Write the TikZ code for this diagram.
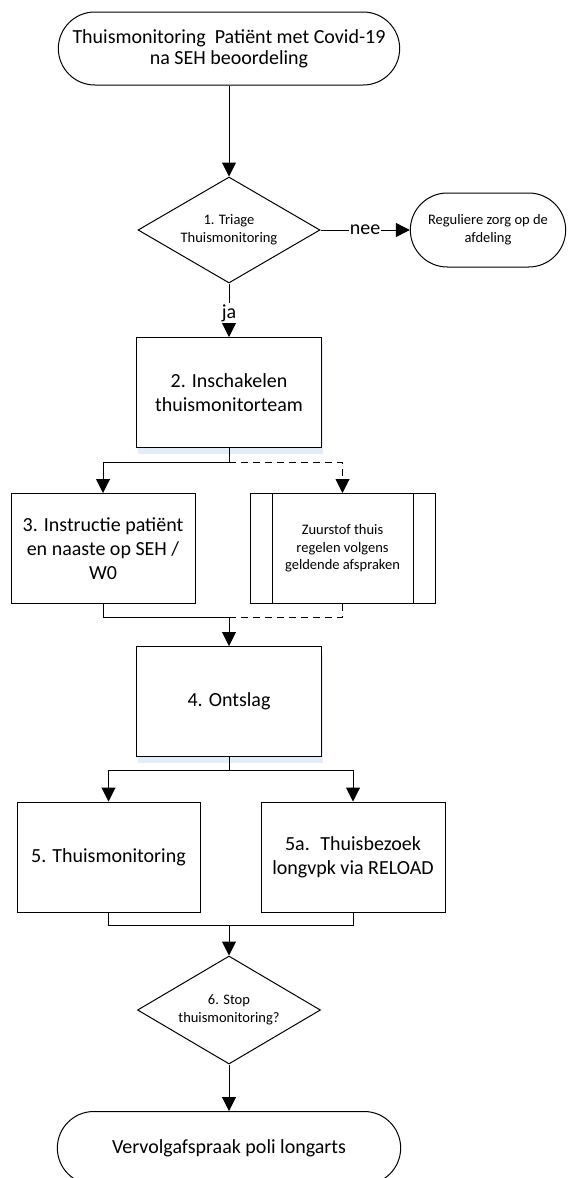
\documentclass[tikz,border=0pt]{standalone}
\usepackage{fontspec}
\setmainfont{Carlito}
\usetikzlibrary{arrows.meta,shapes.geometric,shapes.misc,shadows}
\definecolor{glowblue}{RGB}{228,236,247}
\tikzset{
	every node/.style={font=\fontsize{20}{24}\selectfont},
	terminal/.style={draw, rounded rectangle, fill=white, minimum height=73pt, align=center, font=\fontsize{20}{21}\selectfont},
	smallterminal/.style={terminal, minimum height=74pt, font=\fontsize{14.5}{18}\selectfont},
	decision/.style={draw, diamond, aspect=1.7, fill=white, inner sep=0pt, align=center, font=\fontsize{14.5}{18}\selectfont},
	stepbox/.style={draw, rectangle, fill=white, minimum width=185pt, minimum height=110pt, align=center},
	subproc/.style={stepbox, font=\fontsize{14.5}{17.5}\selectfont,
		path picture={
			\draw ([xshift=22pt]path picture bounding box.north west) -- ([xshift=22pt]path picture bounding box.south west);
			\draw ([xshift=-22pt]path picture bounding box.north east) -- ([xshift=-22pt]path picture bounding box.south east);
		}},
	glow/.style={drop shadow={shadow xshift=1.5pt, shadow yshift=-6pt, fill=glowblue, opacity=1}},
	onlabel/.style={fill=white, inner sep=1pt}
}

\begin{document}
\begin{tikzpicture}[x=1pt, y=-1pt, line width=1pt, >={Triangle[length=14pt,width=14pt]}]
		%%%%% START %%%%%
		\useasboundingbox (0,0) rectangle (570,1178);
		
		\node[terminal, minimum width=348pt] (start) at (229,48.5) {Thuismonitoring~ Patiënt met Covid-19\\na SEH beoordeling};
		\node[decision, minimum width=182pt, minimum height=106pt] (triage) at (229,230) {1. Triage\\Thuismonitoring};
		\node[smallterminal, minimum width=162pt] (regulier) at (488,230) {Reguliere zorg op de\\afdeling};
		
		\node[stepbox, glow] (inschakel) at (229,392.5) {2. Inschakelen\\thuismonitorteam};
		\node[stepbox, minimum width=184pt] (instructie) at (103,548.5) {3. Instructie patiënt\\en naaste op SEH /\\W0};
		\node[subproc] (zuurstof) at (342.5,548.5) {Zuurstof thuis\\regelen volgens\\geldende afspraken};
		
		\node[stepbox, glow] (ontslag) at (229,701.5) {4. Ontslag};
		\node[stepbox, minimum width=183pt] (monitoring) at (108.5,857) {5. Thuismonitoring};
		\node[stepbox, minimum width=184pt] (bezoek) at (353,857) {5a.~ Thuisbezoek\\longvpk via RELOAD};
		
		\node[decision, minimum width=183pt, minimum height=108pt] (stop) at (229,1010) {6. Stop\\thuismonitoring?};
		\node[terminal, minimum width=350pt] (vervolg) at (229,1148) {Vervolgafspraak poli longarts};
		
		\coordinate (split1) at (229,462);
		\coordinate (merge1) at (229,617);
		\coordinate (split2) at (229,770);
		\coordinate (merge2) at (229,925);
		
		\draw[->] (start.south) -- (triage.north);
		\draw[->] (triage.east) -- node[onlabel] {nee} (regulier.west);
		\draw[->] (triage.south) -- node[onlabel, pos=0.55] {ja} (inschakel.north);
		
		\draw (inschakel.south) -- (split1);
		\draw[->] (split1) -| (instructie.north);
		\draw[->, dash pattern=on 7pt off 5pt] (split1) -| (zuurstof.north);
		
		\draw (instructie.south) |- (merge1);
		\draw[dash pattern=on 7pt off 5pt] (zuurstof.south) |- (merge1);
		\draw[->] (merge1) -- (ontslag.north);
		
		\draw (ontslag.south) -- (split2);
		\draw[->] (split2) -| (monitoring.north);
		\draw[->] (split2) -| (bezoek.north);
		
		\draw (monitoring.south) |- (merge2);
		\draw (bezoek.south) |- (merge2);
		\draw[->] (merge2) -- (stop.north);
		\draw[->] (stop.south) -- (vervolg.north);
		
		%%%%% END %%%%%
\end{tikzpicture}
\end{document}
